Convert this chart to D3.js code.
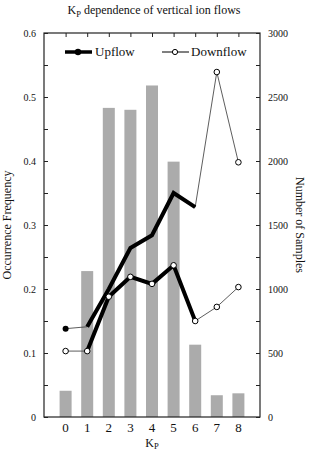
<!DOCTYPE html>
<meta charset="utf-8">
<head>
<title>Kp dependence of vertical ion flows</title>
<style>
  body { margin: 0; background: #fff; }
  svg text { font-family: "Liberation Serif", "DejaVu Serif", serif; fill: #111; }
</style>
</head>
<body>
<div id="chart"></div>
<script src="https://cdn.jsdelivr.net/npm/d3@7"></script>
<script>
// data
var kp = [0, 1, 2, 3, 4, 5, 6, 7, 8];
var samples = [205, 1140, 2415, 2400, 2590, 1995, 565, 170, 185];
var upflow = [0.138, 0.141, 0.200, 0.264, 0.284, 0.350, 0.328, 0.539, 0.398];
var downflow = [0.103, 0.103, 0.188, 0.219, 0.208, 0.237, 0.150, 0.172, 0.203];
var leftTicks = [0, 0.1, 0.2, 0.3, 0.4, 0.5, 0.6];
var rightTicks = [0, 500, 1000, 1500, 2000, 2500, 3000];
// the heavy part of each curve (Kp 1..6)
var heavyFrom = 1, heavyTo = 6;

var W = 319, H = 451;
var margin = {top: 33, right: 59, bottom: 34, left: 44};
var width = W - margin.left - margin.right,
    height = H - margin.top - margin.bottom;

var svg = d3.select("#chart").append("svg")
  .attr("width", W).attr("height", H)
  .append("g")
  .attr("transform", "translate(" + margin.left + "," + margin.top + ")");

var x = d3.scaleLinear().domain([-1, 9]).range([0, width]);
var y = d3.scaleLinear().domain([0, 0.6]).range([height, 0]);
var y2 = d3.scaleLinear().domain([0, 3000]).range([height, 0]);

// bars (number of samples)
var barW = 12;
svg.selectAll("rect.bar")
  .data(kp)
  .enter()
  .append("rect")
  .attr("class", "bar")
  .attr("x", function(d) { return x(d) - barW / 2; })
  .attr("y", function(d, i) { return y2(samples[i]); })
  .attr("width", barW)
  .attr("height", function(d, i) { return height - y2(samples[i]); })
  .attr("fill", "#ababab");

// frame
svg.append("rect")
  .attr("width", width).attr("height", height)
  .attr("fill", "none").attr("stroke", "#222").attr("stroke-width", 1.2);

// left axis, inner ticks
var leftAx = svg.append("g")
  .call(d3.axisRight(y).tickValues(d3.range(0, 0.601, 0.05)).tickSize(4).tickFormat(""));
leftAx.select(".domain").remove();
leftAx.selectAll("line").attr("stroke", "#222");
svg.selectAll("text.ltick")
  .data(leftTicks)
  .enter()
  .append("text")
  .attr("x", -8)
  .attr("y", function(d) { return y(d); })
  .attr("dy", "0.35em")
  .attr("text-anchor", "end")
  .style("font-size", "10px")
  .text(function(d) { return d === 0 ? "0" : d3.format(".1f")(d); });

// right axis, inner ticks
var rightAx = svg.append("g")
  .attr("transform", "translate(" + width + ",0)")
  .call(d3.axisLeft(y2).tickValues(d3.range(0, 3001, 250)).tickSize(4).tickFormat(""));
rightAx.select(".domain").remove();
rightAx.selectAll("line").attr("stroke", "#222");
svg.selectAll("text.rtick")
  .data(rightTicks)
  .enter()
  .append("text")
  .attr("x", width + 8)
  .attr("y", function(d) { return y2(d); })
  .attr("dy", "0.35em")
  .style("font-size", "10px")
  .text(function(d) { return d; });

// top ticks
var topAx = svg.append("g")
  .call(d3.axisBottom(x).tickValues(kp).tickSize(4).tickFormat(""));
topAx.select(".domain").remove();
topAx.selectAll("line").attr("stroke", "#222");

// bottom tick labels
svg.selectAll("text.xtick")
  .data(kp)
  .enter()
  .append("text")
  .attr("x", function(d) { return x(d); })
  .attr("y", height + 15)
  .attr("text-anchor", "middle")
  .style("font-size", "13px")
  .text(function(d) { return d; });

// lines
var line = d3.line()
  .x(function(d) { return x(d[0]); })
  .y(function(d) { return y(d[1]); });

function pts(vals) { return kp.map(function(k, i) { return [k, vals[i]]; }); }
function heavy(vals) { return pts(vals).slice(heavyFrom, heavyTo + 1); }

[upflow, downflow].forEach(function(vals) {
  svg.append("path").datum(pts(vals))
    .attr("d", line).attr("fill", "none")
    .attr("stroke", "#333").attr("stroke-width", 0.8);
  svg.append("path").datum(heavy(vals))
    .attr("d", line).attr("fill", "none")
    .attr("stroke", "#000").attr("stroke-width", 4)
    .attr("stroke-linejoin", "miter");
});

// upflow markers: filled at Kp 0, open at 7 and 8
svg.append("circle")
  .attr("cx", x(kp[0])).attr("cy", y(upflow[0])).attr("r", 3)
  .attr("fill", "#000");
svg.selectAll("circle.upo")
  .data([7, 8])
  .enter()
  .append("circle")
  .attr("cx", function(d) { return x(d); })
  .attr("cy", function(d) { return y(upflow[d]); })
  .attr("r", 2.8)
  .attr("fill", "#fff").attr("stroke", "#000").attr("stroke-width", 1);

// downflow markers: open circles
svg.selectAll("circle.down")
  .data(kp)
  .enter()
  .append("circle")
  .attr("cx", function(d) { return x(d); })
  .attr("cy", function(d, i) { return y(downflow[i]); })
  .attr("r", 2.8)
  .attr("fill", "#fff").attr("stroke", "#000").attr("stroke-width", 1);

// legend
var lg = svg.append("g").attr("transform", "translate(0,19)");
lg.append("line").attr("x1", 21).attr("x2", 48).attr("y1", 0).attr("y2", 0)
  .attr("stroke", "#000").attr("stroke-width", 3.5);
lg.append("circle").attr("cx", 34).attr("cy", 0).attr("r", 3.2).attr("fill", "#000");
lg.append("text").attr("x", 51).attr("y", 4).style("font-size", "13px").text("Upflow");
lg.append("line").attr("x1", 118).attr("x2", 145).attr("y1", 0).attr("y2", 0)
  .attr("stroke", "#000").attr("stroke-width", 1);
lg.append("circle").attr("cx", 131).attr("cy", 0).attr("r", 2.6)
  .attr("fill", "#fff").attr("stroke", "#000");
lg.append("text").attr("x", 147).attr("y", 4).style("font-size", "13px").text("Downflow");

// axis titles
svg.append("text")
  .attr("transform", "translate(-33," + height / 2 + ") rotate(-90)")
  .attr("text-anchor", "middle")
  .style("font-size", "12px")
  .text("Occurrence Frequency");

svg.append("text")
  .attr("transform", "translate(" + (width + 36) + "," + height / 2 + ") rotate(90)")
  .attr("text-anchor", "middle")
  .style("font-size", "12px")
  .text("Number of Samples");

var xt = svg.append("text")
  .attr("x", x(4))
  .attr("y", height + 30)
  .attr("text-anchor", "middle")
  .style("font-size", "12px");
xt.append("tspan").text("K");
xt.append("tspan").attr("dy", 1.5).style("font-size", "8.5px").text("P");

// title
var title = svg.append("text")
  .attr("x", width / 2 + 2)
  .attr("y", -19)
  .attr("text-anchor", "middle")
  .style("font-size", "12px");
title.append("tspan").text("K");
title.append("tspan").attr("dy", 3).style("font-size", "8.5px").text("P");
title.append("tspan").attr("dy", -3).text(" dependence of vertical ion flows");
</script>
</body>
